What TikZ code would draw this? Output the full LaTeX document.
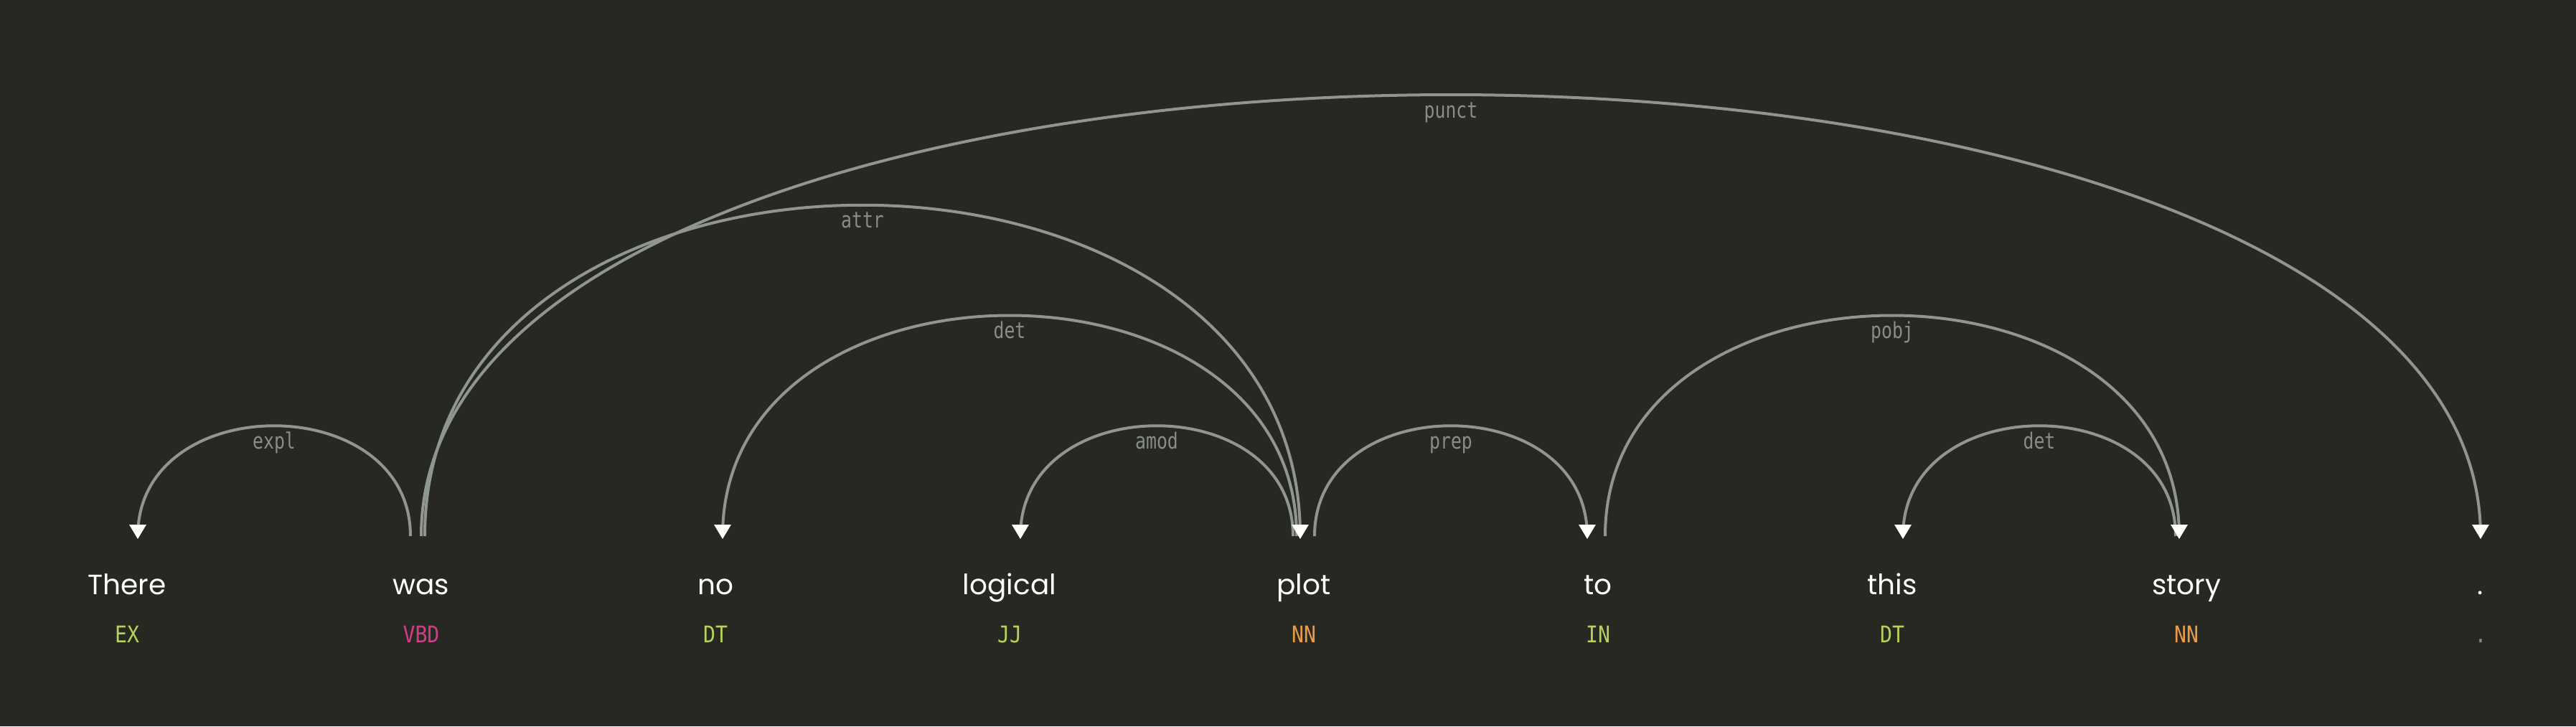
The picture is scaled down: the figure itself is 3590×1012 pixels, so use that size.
\documentclass[tikz,border=0pt]{standalone}
\usepackage{fontspec}
\setmainfont{Poppins}
\newfontfamily\tagfont[FakeStretch=0.88]{DejaVu Sans Mono}
\newfontfamily\labfont[FakeStretch=0.8]{DejaVu Sans Mono}
\usetikzlibrary{calc}
\definecolor{bg}{HTML}{272822}
\definecolor{arcgray}{HTML}{8F9690}
\definecolor{labgray}{HTML}{888D87}
\definecolor{tgreen}{HTML}{B7D25C}
\definecolor{torange}{HTML}{E89C48}
\definecolor{tpink}{HTML}{D23C8C}
\newcommand\DepArc[4]{% #1 start idx, #2 end idx, #3 level, #4 label
  \pgfmathsetmacro\DAoff{20-5*#3}%
  \pgfmathsetmacro\DAh{-205*#3}%
  \coordinate (ds#1#2) at ($(anc#1)+(\DAoff,0)$);%
  \coordinate (de#1#2) at ($(anc#2)+(-\DAoff,0)$);%
  \draw[deparc] (ds#1#2) .. controls ($(ds#1#2)+(0,\DAh)$) and ($(de#1#2)+(0,\DAh)$) .. (de#1#2) node[deplab,pos=0.5] {#4};%
}
\newcommand\DepHead[1]{%
  \fill[dephead] ($(#1)+(0,4)$) -- ($(#1)+(-12,-16)$) -- ($(#1)+(12,-16)$) -- cycle;%
}
\begin{document}
\begin{tikzpicture}[x=1pt,y=-1pt,
  word/.style={anchor=base,inner sep=0pt,text=white,font=\fontsize{39}{44}\selectfont},
  postag/.style={anchor=base,inner sep=0pt,font=\tagfont\fontsize{32}{36}\selectfont},
  deparc/.style={draw=arcgray,line width=4pt},
  deplab/.style={anchor=base,yshift=-32pt,inner sep=0pt,text=labgray,font=\labfont\fontsize{31}{34}\selectfont},
  dephead/.style={fill=white}]
\fill[bg] (0,0) rectangle (3590,1012);
\useasboundingbox (0,0) rectangle (3590,1012);
% words
\node[word] (w0) at (177,828) {There};
\node[word] (w1) at (587,828) {was};
\node[word] (w2) at (997,828) {no};
\node[word] (w3) at (1407,828) {logical};
\node[word] (w4) at (1817,828) {plot};
\node[word] (w5) at (2227,828) {to};
\node[word] (w6) at (2637,828) {this};
\node[word] (w7) at (3047,828) {story};
\node[word] (w8) at (3457,828) {.};
% tags
\node[postag,text=tgreen] (t0) at (177,895) {EX};
\node[postag,text=tpink] (t1) at (587,895) {VBD};
\node[postag,text=tgreen] (t2) at (997,895) {DT};
\node[postag,text=tgreen] (t3) at (1407,895) {JJ};
\node[postag,text=torange] (t4) at (1817,895) {NN};
\node[postag,text=tgreen] (t5) at (2227,895) {IN};
\node[postag,text=tgreen] (t6) at (2637,895) {DT};
\node[postag,text=torange] (t7) at (3047,895) {NN};
\node[postag,text=labgray] (t8) at (3457,895) {.};
% arc anchors
\foreach \i in {0,...,8} { \coordinate (anc\i) at ($(w\i.base)+(0,-81)$); }
% arcs
\DepArc{0}{1}{1}{expl}
\DepArc{1}{4}{3}{attr}
\DepArc{1}{8}{4}{punct}
\DepArc{2}{4}{2}{det}
\DepArc{3}{4}{1}{amod}
\DepArc{4}{5}{1}{prep}
\DepArc{5}{7}{2}{pobj}
\DepArc{6}{7}{1}{det}
% arrowheads
\DepHead{ds01}
\DepHead{de14}
\DepHead{de18}
\DepHead{ds24}
\DepHead{ds34}
\DepHead{de45}
\DepHead{de57}
\DepHead{ds67}
\end{tikzpicture}
\end{document}
